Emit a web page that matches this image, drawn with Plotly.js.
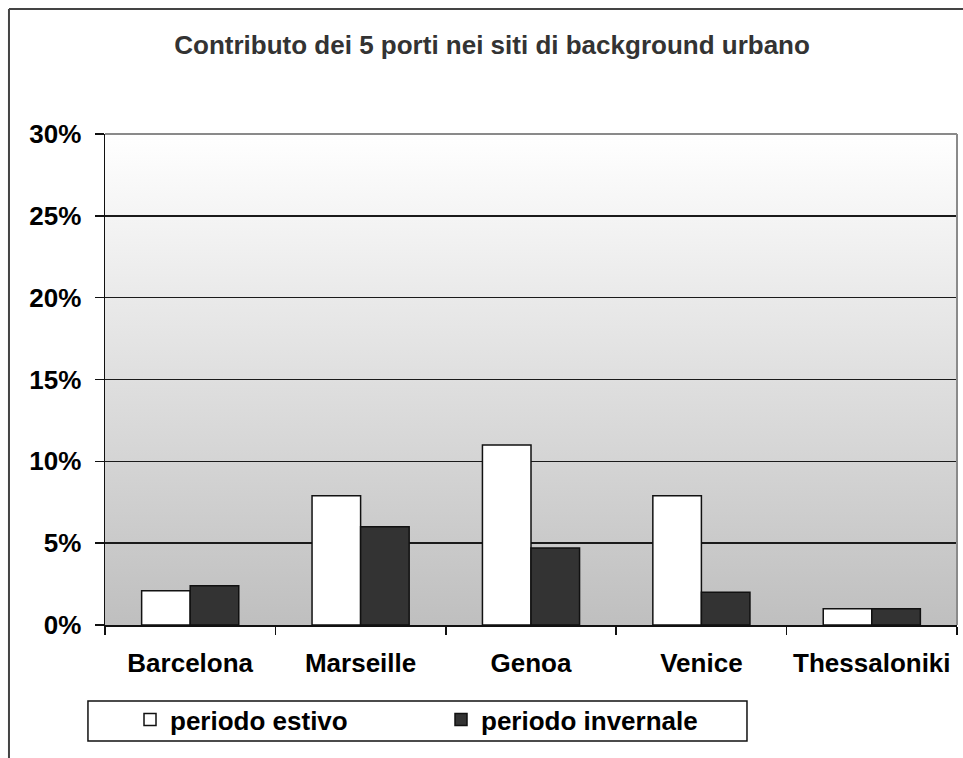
<!DOCTYPE html>
<html>
<head>
<meta charset="utf-8">
<script src="https://cdn.plot.ly/plotly-3.0.1.min.js"></script>
<style>
html,body{margin:0;padding:0;background:#fff;}
#chart{width:963px;height:758px;}
</style>
</head>
<body>
<div id="chart"></div>
<script>
var categories = ['Barcelona', 'Marseille', 'Genoa', 'Venice', 'Thessaloniki'];
var estivo = [0.021, 0.079, 0.110, 0.079, 0.010];
var invernale = [0.024, 0.060, 0.047, 0.020, 0.010];
var seriesNames = ['periodo estivo', 'periodo invernale'];
var titleText = 'Contributo dei 5 porti nei siti di background urbano';

var FONT = '"Liberation Sans", Arial, sans-serif';

var gradSvg = '<svg xmlns="http://www.w3.org/2000/svg" width="100" height="100" preserveAspectRatio="none">' +
  '<defs><linearGradient id="g" x1="0" y1="0" x2="0" y2="1">' +
  '<stop offset="0" stop-color="#ffffff"/><stop offset="1" stop-color="#bfbfbf"/>' +
  '</linearGradient></defs><rect width="100" height="100" fill="url(#g)"/></svg>';

var traces = [
  {
    type: 'bar', name: seriesNames[0], x: categories, y: estivo,
    marker: {color: '#ffffff', line: {color: '#111111', width: 1.5}}
  },
  {
    type: 'bar', name: seriesNames[1], x: categories, y: invernale,
    marker: {color: '#333333', line: {color: '#111111', width: 1.5}}
  }
];

var layout = {
  width: 963, height: 758,
  margin: {l: 105, r: 6, t: 134, b: 133},
  paper_bgcolor: '#ffffff',
  plot_bgcolor: 'rgba(0,0,0,0)',
  font: {family: FONT, color: '#000'},
  title: {
    text: titleText,
    font: {family: FONT, size: 26, color: '#333333', weight: 'bold'},
    xref: 'container', x: 0.511, xanchor: 'center',
    yref: 'container', y: 0.9406, yanchor: 'middle'
  },
  barmode: 'group',
  bargap: 0.43,
  bargroupgap: 0,
  showlegend: true,
  legend: {
    orientation: 'h',
    xref: 'paper', yref: 'paper',
    x: -0.0176, xanchor: 'left',
    y: -0.1446, yanchor: 'top',
    borderwidth: 0,
    bgcolor: 'rgba(0,0,0,0)',
    font: {family: FONT, size: 26, color: '#000', weight: 'bold'},
    entrywidth: 226, entrywidthmode: 'pixels',
    indentation: 40,
    traceorder: 'normal'
  },
  xaxis: {
    type: 'category',
    showline: true, linecolor: '#111111', linewidth: 1.5,
    ticks: 'outside', tickson: 'boundaries', ticklen: 8, tickwidth: 1.5, tickcolor: '#111111',
    tickfont: {family: FONT, size: 26, color: '#000', weight: 'bold'},
    ticklabelstandoff: 14,
    showgrid: false, zeroline: false, fixedrange: true
  },
  yaxis: {
    range: [0, 0.3], dtick: 0.05, tick0: 0, tickformat: '.0%',
    showline: true, linecolor: '#111111', linewidth: 1.5,
    ticks: 'outside', ticklen: 9, tickwidth: 1.5, tickcolor: '#111111',
    tickfont: {family: FONT, size: 26, color: '#000', weight: 'bold'},
    ticklabelstandoff: 8,
    showgrid: true, gridcolor: '#1a1a1a', gridwidth: 1.5,
    zeroline: false, fixedrange: true
  },
  images: [{
    source: 'data:image/svg+xml;charset=utf-8,' + encodeURIComponent(gradSvg),
    xref: 'paper', yref: 'paper', x: 0, y: 1, sizex: 1, sizey: 1,
    xanchor: 'left', yanchor: 'top', sizing: 'stretch', layer: 'below'
  }],
  shapes: [
    {type: 'line', xref: 'paper', yref: 'paper', x0: 0, x1: 1, y0: 1, y1: 1,
     line: {color: '#8a8a8a', width: 2}, layer: 'above'},
    {type: 'line', xref: 'paper', yref: 'paper', x0: 1, x1: 1, y0: 0, y1: 1,
     line: {color: '#8a8a8a', width: 2}, layer: 'above'},
    {type: 'line', xref: 'paper', yref: 'paper', x0: -0.1127, x1: -0.1127, y0: -0.29, y1: 1.2546,
     line: {color: '#444444', width: 2}},
    {type: 'line', xref: 'paper', yref: 'paper', x0: -0.1127, x1: 1.02, y0: 1.2546, y1: 1.2546,
     line: {color: '#444444', width: 2}},
    {type: 'rect', xref: 'paper', yref: 'paper', x0: -0.02, x1: 0.7535, y0: -0.2363, y1: -0.1548,
     fillcolor: '#ffffff', line: {color: '#111111', width: 1.5}, layer: 'above'}
  ]
};

Plotly.newPlot('chart', traces, layout, {displayModeBar: false, staticPlot: true});
</script>
</body>
</html>
